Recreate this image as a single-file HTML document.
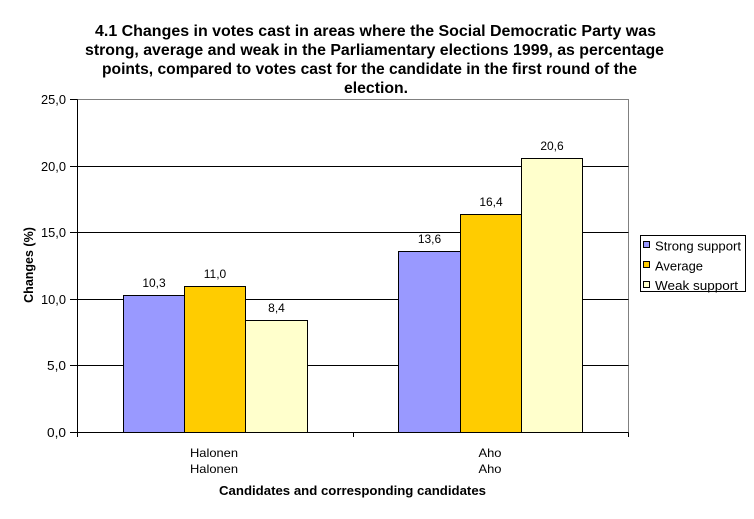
<!DOCTYPE html>
<html><head><meta charset="utf-8"><style>
html,body{margin:0;padding:0;background:#fff;}
svg{display:block;font-family:"Liberation Sans",Arial,sans-serif;}
</style></head><body>
<svg width="754" height="519" viewBox="0 0 754 519" xmlns="http://www.w3.org/2000/svg">
<rect width="754" height="519" fill="#fff"/>
<!-- title -->
<g font-weight="bold" font-size="16" fill="#000">
<text x="95" y="36" textLength="561" lengthAdjust="spacingAndGlyphs">4.1 Changes in votes cast in areas where the Social Democratic Party was</text>
<text x="85" y="55" textLength="579" lengthAdjust="spacingAndGlyphs">strong, average and weak in the Parliamentary elections 1999, as percentage</text>
<text x="102" y="74" textLength="535" lengthAdjust="spacingAndGlyphs">points, compared to votes cast for the candidate in the first round of the</text>
<text x="344" y="93" textLength="64" lengthAdjust="spacingAndGlyphs">election.</text>
</g>
<!-- plot border -->
<polyline points="77.5,99.5 628.5,99.5 628.5,432.5" fill="none" stroke="#808080" stroke-width="1"/>
<!-- gridlines -->
<g stroke="#000" stroke-width="1">
<line x1="77.5" y1="166.5" x2="628.5" y2="166.5"/>
<line x1="77.5" y1="232.5" x2="628.5" y2="232.5"/>
<line x1="77.5" y1="299.5" x2="628.5" y2="299.5"/>
<line x1="77.5" y1="365.5" x2="628.5" y2="365.5"/>
</g>
<!-- bars -->
<g stroke="#000" stroke-width="1">
<rect x="123.5" y="295.5" width="61" height="137" fill="#9999FF"/>
<rect x="184.5" y="286.5" width="61" height="146" fill="#FFCC00"/>
<rect x="245.5" y="320.5" width="62" height="112" fill="#FFFFCC"/>
<rect x="398.5" y="251.5" width="62" height="181" fill="#9999FF"/>
<rect x="460.5" y="214.5" width="61" height="218" fill="#FFCC00"/>
<rect x="521.5" y="158.5" width="61" height="274" fill="#FFFFCC"/>
</g>
<!-- axes -->
<g stroke="#000" stroke-width="1">
<line x1="77.5" y1="99.5" x2="77.5" y2="432.5"/>
<line x1="77.5" y1="432.5" x2="628.5" y2="432.5"/>
<line x1="70" y1="99.5" x2="77.5" y2="99.5"/>
<line x1="70" y1="166.5" x2="77.5" y2="166.5"/>
<line x1="70" y1="232.5" x2="77.5" y2="232.5"/>
<line x1="70" y1="299.5" x2="77.5" y2="299.5"/>
<line x1="70" y1="365.5" x2="77.5" y2="365.5"/>
<line x1="70" y1="432.5" x2="77.5" y2="432.5"/>
<line x1="77.5" y1="432.5" x2="77.5" y2="437"/>
<line x1="353.5" y1="432.5" x2="353.5" y2="437"/>
<line x1="628.5" y1="432.5" x2="628.5" y2="437"/>
</g>
<!-- y labels -->
<g font-size="12.5" fill="#000" text-anchor="end">
<text x="66" y="104" textLength="25" lengthAdjust="spacingAndGlyphs">25,0</text>
<text x="66" y="171" textLength="25" lengthAdjust="spacingAndGlyphs">20,0</text>
<text x="66" y="237" textLength="25" lengthAdjust="spacingAndGlyphs">15,0</text>
<text x="66" y="304" textLength="25" lengthAdjust="spacingAndGlyphs">10,0</text>
<text x="66" y="370" textLength="19" lengthAdjust="spacingAndGlyphs">5,0</text>
<text x="66" y="437" textLength="19" lengthAdjust="spacingAndGlyphs">0,0</text>
</g>
<!-- y title -->
<text transform="translate(33,265) rotate(-90)" text-anchor="middle" font-size="12.5" font-weight="bold" fill="#000">Changes (%)</text>
<!-- data labels -->
<g font-size="12" fill="#000" text-anchor="middle">
<text x="154" y="287">10,3</text>
<text x="215" y="278">11,0</text>
<text x="276.5" y="312">8,4</text>
<text x="429.5" y="243">13,6</text>
<text x="491" y="206">16,4</text>
<text x="552" y="150">20,6</text>
</g>
<!-- category labels -->
<g font-size="12" fill="#000">
<text x="190" y="457" textLength="48" lengthAdjust="spacingAndGlyphs">Halonen</text>
<text x="190" y="473" textLength="48" lengthAdjust="spacingAndGlyphs">Halonen</text>
<text x="478.5" y="457" textLength="23" lengthAdjust="spacingAndGlyphs">Aho</text>
<text x="478.5" y="473" textLength="23" lengthAdjust="spacingAndGlyphs">Aho</text>
</g>
<!-- x title -->
<text x="219" y="495" font-size="12.5" font-weight="bold" fill="#000" textLength="267" lengthAdjust="spacingAndGlyphs">Candidates and corresponding candidates</text>
<!-- legend -->
<rect x="640.5" y="235.5" width="105" height="56" fill="#fff" stroke="#000" stroke-width="1"/>
<g stroke="#000" stroke-width="1">
<rect x="643.5" y="241.5" width="6" height="6" fill="#9999FF"/>
<rect x="643.5" y="261.5" width="6" height="6" fill="#FFCC00"/>
<rect x="643.5" y="281.5" width="6" height="6" fill="#FFFFCC"/>
</g>
<g font-size="12.5" fill="#000">
<text x="655" y="250.5" textLength="86" lengthAdjust="spacingAndGlyphs">Strong support</text>
<text x="655" y="270.5" textLength="48" lengthAdjust="spacingAndGlyphs">Average</text>
<text x="655" y="290" textLength="83" lengthAdjust="spacingAndGlyphs">Weak support</text>
</g>
</svg>
</body></html>
